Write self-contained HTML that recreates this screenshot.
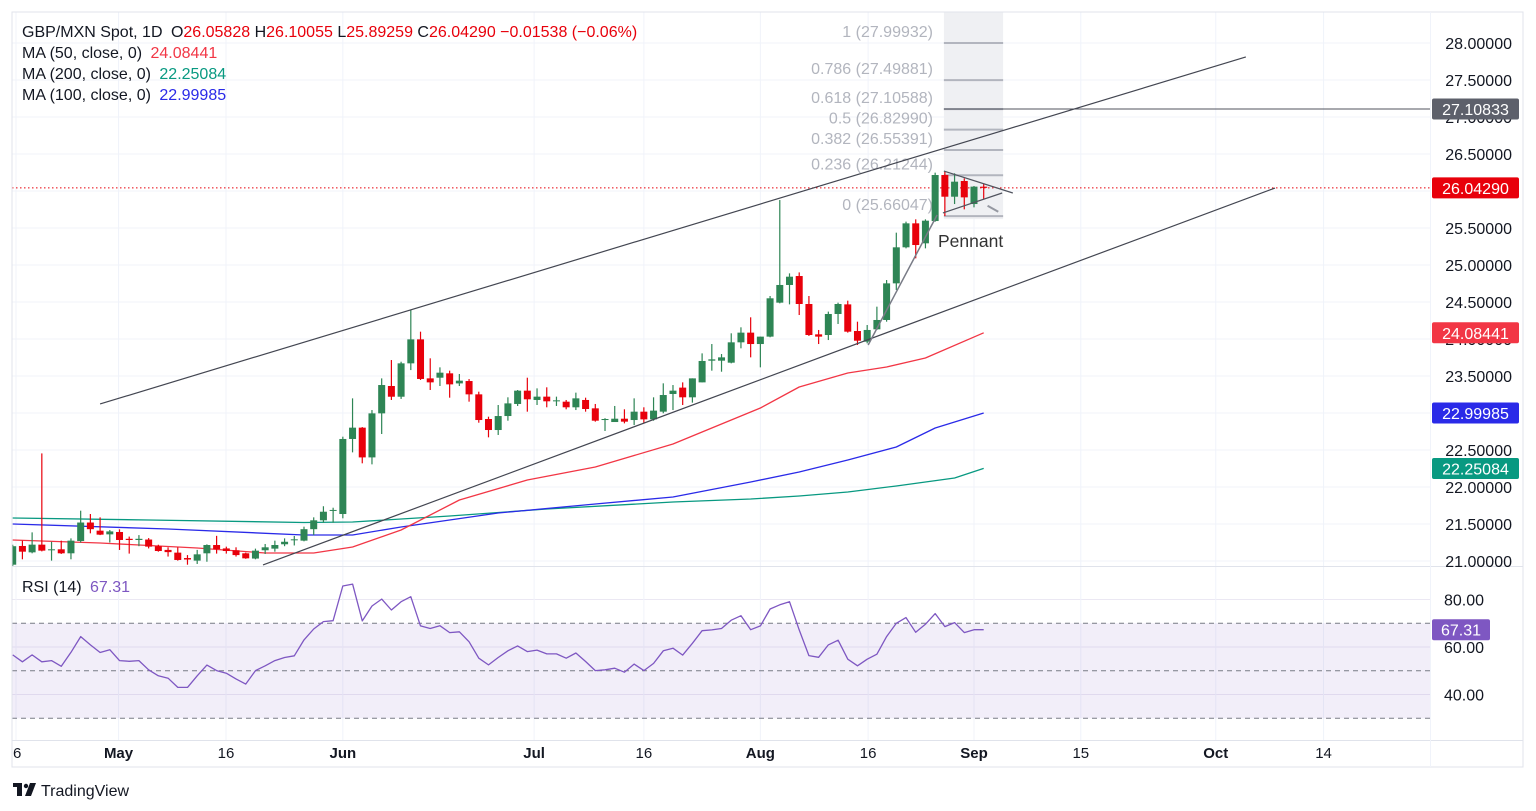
<!DOCTYPE html>
<html><head><meta charset="utf-8"><title>GBP/MXN Spot 1D</title>
<style>
html,body{margin:0;padding:0;background:#fff;}
svg{display:block;font-family:"Liberation Sans",sans-serif;}
</style></head>
<body>
<svg id="chart" width="1536" height="811" viewBox="0 0 1536 811" xmlns="http://www.w3.org/2000/svg">
<rect x="0" y="0" width="1536" height="811" fill="#ffffff"/>
<g id="grid"></g>
<g id="fib"></g>
<g id="mas"></g>
<g id="candles"></g>
<g id="draw"></g>
<g id="rsi"></g>
<g id="axes"></g>
<g font-size="16" fill="#131722">
  <text x="22" y="37">GBP/MXN Spot, 1D <tspan dx="4">O</tspan><tspan fill="#e8000b">26.05828</tspan> <tspan>H</tspan><tspan fill="#e8000b">26.10055</tspan> <tspan>L</tspan><tspan fill="#e8000b">25.89259</tspan> <tspan>C</tspan><tspan fill="#e8000b">26.04290 −0.01538 (−0.06%)</tspan></text>
  <text x="22" y="58">MA (50, close, 0) <tspan dx="4" fill="#f23645">24.08441</tspan></text>
  <text x="22" y="79">MA (200, close, 0) <tspan dx="4" fill="#089981">22.25084</tspan></text>
  <text x="22" y="100">MA (100, close, 0) <tspan dx="4" fill="#2a2ae8">22.99985</tspan></text>
  <text x="22" y="592">RSI (14) <tspan dx="4" fill="#7e57c2">67.31</tspan></text>
  <text x="938" y="247" font-size="17.5" fill="#333">Pennant</text>
</g>
<g>
  <rect x="13" y="783" width="9" height="4" fill="#131722"/>
  <rect x="17" y="783" width="5" height="13" fill="#131722"/>
  <circle cx="26" cy="786" r="2.2" fill="#131722"/>
  <polygon points="30,783 36,783 31,796 25,796" fill="#131722"/>
  <text x="41" y="796" font-size="16" fill="#131722">TradingView</text>
</g>
</svg>
<script>
// ---- data ----
const opens  = [20.95,21.203,21.117,21.221,21.145,21.158,21.104,21.27,21.52,21.41,21.36,21.392,21.30,21.284,21.29,21.2,21.15,21.113,21.04,21.005,21.104,21.216,21.17,21.145,21.104,21.033,21.145,21.167,21.226,21.284,21.275,21.43,21.55,21.68,21.635,22.649,22.802,22.4,22.995,23.365,23.22,23.671,23.995,23.468,23.477,23.536,23.4,23.432,23.252,22.919,22.77,22.959,23.122,23.302,23.176,23.221,23.158,23.153,23.077,23.176,23.063,22.905,22.878,22.923,22.905,23.018,22.914,23.018,23.257,23.343,23.212,23.414,23.707,23.707,23.68,23.955,24.086,23.932,24.032,24.491,24.73,24.851,24.473,24.063,24.054,24.338,24.468,24.108,23.964,24.131,24.257,24.752,25.239,25.563,25.293,25.594,26.216,25.923,26.135,25.824,26.05828];
const highs  = [21.22,21.275,21.387,22.454,21.26,21.275,21.306,21.68,21.635,21.59,21.419,21.428,21.33,21.35,21.31,21.22,21.185,21.185,21.08,21.15,21.225,21.34,21.194,21.185,21.113,21.167,21.23,21.275,21.306,21.338,21.464,21.59,21.74,21.72,22.68,23.198,22.81,23.04,23.468,23.716,23.693,24.392,24.099,23.739,23.617,23.572,23.527,23.459,23.288,22.95,23.108,23.212,23.311,23.477,23.333,23.347,23.221,23.176,23.275,23.207,23.122,22.93,23.095,23.05,23.198,23.077,23.212,23.401,23.378,23.414,23.468,23.806,23.932,23.797,24.077,24.158,24.293,24.032,24.581,25.878,24.887,24.9,24.581,24.122,24.37,24.491,24.518,24.234,24.189,24.437,24.797,25.437,25.586,25.617,25.617,26.248,26.261,26.239,26.171,26.068,26.10055];
const lows   = [20.9,21.023,21.104,21.13,21.005,21.095,21.023,21.25,21.374,21.35,21.25,21.149,21.1,21.2,21.17,21.126,21.06,21.005,20.95,20.96,20.99,21.1,21.1,21.06,21.03,21.023,21.095,21.126,21.2,21.21,21.266,21.35,21.518,21.518,21.577,22.468,22.32,22.306,22.716,23.176,23.19,23.58,23.446,23.311,23.365,23.207,23.365,23.153,22.869,22.671,22.703,22.896,23.095,23.018,23.108,23.077,23.095,23.05,23.04,23.018,22.883,22.757,22.896,22.86,22.837,22.869,22.896,22.996,23.04,23.108,23.14,23.414,23.572,23.558,23.671,23.874,23.752,23.617,24.023,24.482,24.468,24.324,24.041,23.932,23.986,24.203,24.086,23.919,23.941,24.122,24.234,24.662,25.225,25.09,25.225,25.585,25.662,25.824,25.752,25.779,25.89259];
const closes = [21.2,21.126,21.221,21.14,21.158,21.104,21.275,21.52,21.43,21.356,21.40,21.284,21.284,21.30,21.194,21.135,21.12,21.014,21.02,21.09,21.216,21.16,21.135,21.08,21.036,21.14,21.185,21.216,21.26,21.293,21.43,21.55,21.666,21.69,22.649,22.802,22.4,22.995,23.378,23.22,23.671,23.995,23.46,23.414,23.545,23.387,23.437,23.252,22.905,22.77,22.959,23.13,23.302,23.185,23.221,23.158,23.171,23.077,23.198,23.054,22.896,22.919,22.923,22.883,23.018,22.914,23.032,23.243,23.302,23.212,23.468,23.703,23.725,23.752,23.955,24.086,23.932,24.032,24.55,24.73,24.842,24.473,24.054,24.032,24.338,24.473,24.099,23.977,24.122,24.257,24.752,25.239,25.563,25.27,25.599,26.216,25.923,26.126,25.914,26.059,26.04290];
const rsiValues = [56.7,53.8,56.7,53.8,54.3,51.9,57.8,64.4,60.9,57.7,58.9,54.3,54.0,54.3,50.4,47.9,46.9,43.0,43.0,47.9,52.4,50.1,49.0,46.6,44.4,50.1,52.1,54.3,55.6,56.3,63.0,67.6,70.7,71.1,85.7,86.5,71.0,77.3,80.2,75.6,79.1,81.2,68.9,67.8,69.0,66.1,66.4,62.2,55.3,52.5,55.6,58.4,60.5,58.1,58.7,57.1,57.1,55.3,57.5,53.9,50.1,50.4,51.1,49.4,52.8,50.1,53.1,58.4,59.5,56.6,61.6,66.9,67.2,67.8,71.3,73.2,67.3,68.9,76.0,77.8,79.1,67.2,56.4,55.7,60.9,62.9,54.9,52.1,54.9,57.0,64.4,70.0,72.4,66.2,69.6,74.1,68.6,70.3,66.1,67.3,67.31];
const ma50Idx  = [0,9,19,26,31,35,40,46,53,60,68,72,77,81,86,90,94,100];
const ma50Val  = [21.284,21.243,21.176,21.108,21.108,21.189,21.419,21.824,22.095,22.27,22.581,22.797,23.068,23.351,23.541,23.622,23.743,24.08441];
const ma200Idx = [0,14,30,35,45,55,68,76,81,86,91,97,100];
const ma200Val = [21.581,21.554,21.52,21.527,21.608,21.703,21.797,21.838,21.878,21.932,22.014,22.122,22.25084];
const ma100Idx = [0,16,30,35,40,50,60,68,76,81,86,91,95,100];
const ma100Val = [21.5,21.432,21.351,21.351,21.459,21.649,21.77,21.865,22.068,22.203,22.365,22.541,22.797,22.99985];
const priceTicks = [28,27.5,27,26.5,26,25.5,25,24.5,24,23.5,23,22.5,22,21.5,21];
const priceTickLabels = ["28.00000","27.50000","27.00000","26.50000","","25.50000","25.00000","24.50000","24.00000","23.50000","23.00000","22.50000","22.00000","21.50000","21.00000"];
const rsiTicks = [80,60,40];
const rsiTickLabels = ["80.00","60.00","40.00"];
const timeTickIdx = [0.34,10.9,21.97,34,53.7,65,77,88.1,99,110,123.9,135];
const timeTickLabels = ["6","May","16","Jun","Jul","16","Aug","16","Sep","15","Oct","14"];
const timeTickBold = [false,true,false,true,true,false,true,false,true,false,true,false];
const fibRatios = [1,0.786,0.618,0.5,0.382,0.236,0];
const fibHigh = 27.99932, fibLow = 25.66047;
const hLineValue = 27.10833;
const lastClose = 26.04290;
// drawings: [idx1, price1, idx2, price2]
const channelUpper = [9.0,23.122,127.0,27.811];
const channelLower = [25.78,20.946,130.0,26.04];
const pennantUpper = [95.9,26.27,103.0,25.973];
const pennantLower = [95.8,25.703,101.9,25.973];
const flagpole = [88.1,23.919,95.2,25.676];
const pennantTick = [100.4,25.80,101.5,25.72];

// ---- scales ----
const L=12, R=1430, TOP=12, MAINB=566, RSIT=567, RSIB=740, AXB=767;
const X0=12.7, STEP=9.71;
const xS = i => X0 + i*STEP;
const yP = p => 43 + (28-p)*74;
const yR = v => 623.3 - (v-70)*2.375;
const NS="http://www.w3.org/2000/svg";
function mk(tag, attrs, parent){const e=document.createElementNS(NS,tag);for(const k in attrs)e.setAttribute(k,attrs[k]);parent.appendChild(e);return e;}
const svg=document.getElementById('chart');
const defs=mk('defs',{},svg);
const cp=mk('clipPath',{id:'mainclip'},defs); mk('rect',{x:L,y:TOP,width:R-L,height:MAINB-TOP},cp);
const cp2=mk('clipPath',{id:'rsiclip'},defs); mk('rect',{x:L,y:RSIT,width:R-L,height:RSIB-RSIT},cp2);

// ---- grid ----
const grid=document.getElementById('grid');
priceTicks.forEach(p=>{const g=mk('line',{x1:L,x2:R,y1:yP(p),y2:yP(p),stroke:'#f0f3fa','stroke-width':1},grid);

});
rsiTicks.forEach(v=>{const g=mk('line',{x1:L,x2:R,y1:yR(v),y2:yR(v),stroke:'#ebe8f3','stroke-width':1},grid);

});
timeTickIdx.forEach(i=>{const g=mk('line',{x1:xS(i),x2:xS(i),y1:TOP,y2:RSIB,stroke:'#f0f3fa','stroke-width':1},grid);

});

// ---- fib ----
const fib=document.getElementById('fib');
const fx1=xS(95.9), fx2=xS(102.0);
const fr=mk('rect',{x:fx1,y:TOP,width:fx2-fx1,height:yP(fibLow)+3-TOP,fill:'#eff0f3'},fib);


fibRatios.forEach(r=>{const p=fibLow+r*(fibHigh-fibLow);const y=yP(p);
const ln=mk('line',{x1:fx1,x2:fx2,y1:y,y2:y,stroke:'#b2b5be','stroke-width':2},fib);


const t=mk('text',{x:933,y:y-6,'text-anchor':'end','font-size':16,fill:'#b2b5be'},fib);
t.textContent=r+' ('+p.toFixed(5)+')';

});

// ---- horizontal lines ----
const hl=mk('line',{x1:fx1,x2:R,y1:yP(hLineValue),y2:yP(hLineValue),stroke:'#50535e','stroke-width':1},fib);


const pl=mk('line',{x1:L,x2:R,y1:yP(lastClose),y2:yP(lastClose),stroke:'#e8000b','stroke-width':1,'stroke-dasharray':'1.5,2.5'},fib);



// ---- MAs ----
const mas=document.getElementById('mas'); mas.setAttribute('clip-path','url(#mainclip)');
function maLine(idx,val,color,name){const pts=idx.map((i,k)=>xS(i).toFixed(1)+','+yP(val[k]).toFixed(1)).join(' ');
const e=mk('polyline',{points:pts,fill:'none',stroke:color,'stroke-width':1.3,'stroke-linejoin':'round'},mas);

}
maLine(ma200Idx,ma200Val,'#089981','ma200-line');
maLine(ma100Idx,ma100Val,'#2a2ae8','ma100-line');
maLine(ma50Idx,ma50Val,'#f23645','ma50-line');

// ---- candles ----
const cg=document.getElementById('candles'); cg.setAttribute('clip-path','url(#mainclip)');
opens.forEach((o,i)=>{const c=closes[i],h=highs[i],l=lows[i];const up=c>=o;const col=up?'#2e8555':'#e8000b';const x=xS(i);
const w=mk('line',{x1:x,x2:x,y1:yP(h),y2:yP(l),stroke:col,'stroke-width':1.2},cg);


const yt=yP(Math.max(o,c)),yb=yP(Math.min(o,c));
const b=mk('rect',{x:x-3.5,y:yt,width:7,height:Math.max(1,yb-yt),fill:col},cg);

});

// ---- drawings ----
const dg=document.getElementById('draw'); dg.setAttribute('clip-path','url(#mainclip)');
function seg(d,color,wd,name){const e=mk('line',{x1:xS(d[0]),y1:yP(d[1]),x2:xS(d[2]),y2:yP(d[3]),stroke:color,'stroke-width':wd},dg);

}
seg(channelUpper,'#434651',1.2,'channel-upper-line');
seg(channelLower,'#434651',1.2,'channel-lower-line');
seg(flagpole,'#787b86',1.5,'flagpole-line');
seg(pennantUpper,'#50535e',1.2,'pennant-upper-line');
seg(pennantLower,'#50535e',1.2,'pennant-lower-line');
seg(pennantTick,'#9598a1',2,'pennant-breakout-mark');

// ---- RSI ----
const rg=document.getElementById('rsi');
const sep=mk('line',{x1:L,x2:1523,y1:566.5,y2:566.5,stroke:'#e0e3eb','stroke-width':1},rg);


const band=mk('rect',{x:L,y:yR(70),width:R-L,height:yR(30)-yR(70),fill:'#7e57c2','fill-opacity':0.1},rg);


[70,50,30].forEach(v=>{const e=mk('line',{x1:L,x2:R,y1:yR(v),y2:yR(v),stroke:'#787b86','stroke-width':1,'stroke-dasharray':'5,4'},rg);

});
const rpts=rsiValues.map((v,i)=>xS(i).toFixed(1)+','+yR(v).toFixed(1)).join(' ');
const rl=mk('polyline',{points:rpts,fill:'none',stroke:'#7e57c2','stroke-width':1.3,'stroke-linejoin':'round','clip-path':'url(#rsiclip)'},rg);



// ---- axes ----
const ax=document.getElementById('axes');
const fr1=mk('rect',{x:L,y:TOP,width:1523-L,height:AXB-TOP,fill:'none',stroke:'#e0e3eb','stroke-width':1},ax);


const axl=mk('line',{x1:L,x2:1523,y1:RSIB+0.5,y2:RSIB+0.5,stroke:'#e0e3eb','stroke-width':1},ax);


const pal=mk('line',{x1:R+0.5,x2:R+0.5,y1:TOP,y2:AXB,stroke:'#f0f3fa','stroke-width':1},ax);


priceTicks.forEach((p,k)=>{if(!priceTickLabels[k])return;const t=mk('text',{x:1512,y:yP(p)+6,'text-anchor':'end','font-size':16,fill:'#131722'},ax);
t.textContent=priceTickLabels[k];

});
rsiTicks.forEach((v,k)=>{const t=mk('text',{x:1484,y:yR(v)+6,'text-anchor':'end','font-size':16,fill:'#131722'},ax);
t.textContent=rsiTickLabels[k];

});
timeTickIdx.forEach((i,k)=>{const t=mk('text',{x:xS(i),y:758,'text-anchor':k===0?'start':'middle','font-size':15,fill:'#131722','font-weight':timeTickBold[k]?'bold':'normal'},ax);
if(k===0)t.setAttribute('x',13);
t.textContent=timeTickLabels[k];

});
function badge(y,text,bg,name){const g=mk('g',{},ax);


mk('rect',{x:1432,y:y-10.5,width:87,height:21,rx:2,fill:bg},g);
const t=mk('text',{x:1475.5,y:y+6,'text-anchor':'middle','font-size':16,fill:'#fff'},g);t.textContent=text;}
badge(yP(hLineValue),hLineValue.toFixed(5),'#5d606b','hline-price-badge');
badge(yP(lastClose),lastClose.toFixed(5),'#e8000b','last-price-badge');
badge(yP(ma50Val[ma50Val.length-1]),ma50Val[ma50Val.length-1].toFixed(5),'#f23645','ma50-badge');
badge(yP(ma100Val[ma100Val.length-1]),ma100Val[ma100Val.length-1].toFixed(5),'#2a2ae8','ma100-badge');
badge(yP(ma200Val[ma200Val.length-1]),ma200Val[ma200Val.length-1].toFixed(5),'#089981','ma200-badge');
(function(){const v=rsiValues[rsiValues.length-1];const g=mk('g',{},ax);


mk('rect',{x:1432,y:yR(v)-10.5,width:58,height:21,rx:2,fill:'#7e57c2'},g);
const t=mk('text',{x:1461,y:yR(v)+6,'text-anchor':'middle','font-size':16,fill:'#fff'},g);t.textContent=v.toFixed(2);})();
</script>
</body></html>
